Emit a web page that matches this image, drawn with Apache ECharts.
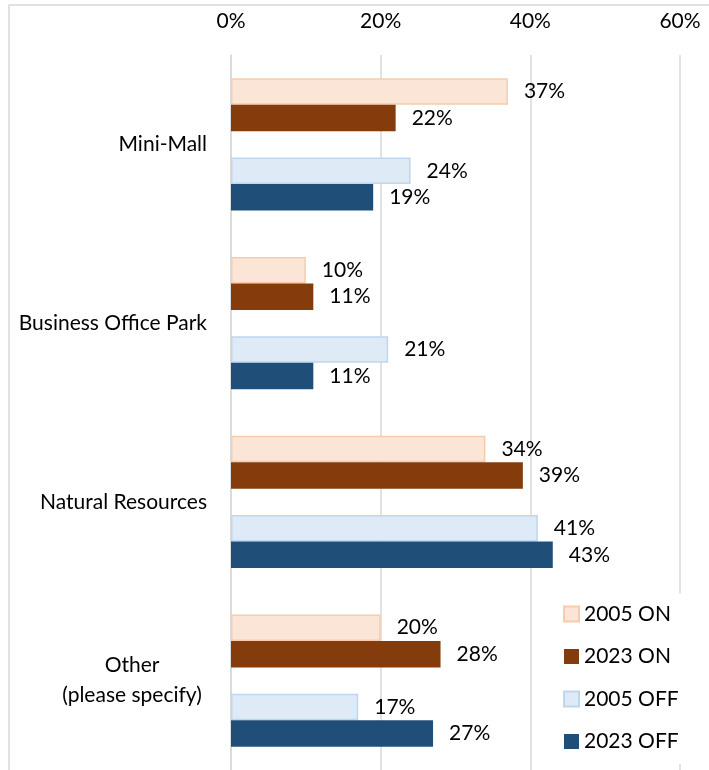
<!DOCTYPE html>
<html>
<head>
    <meta charset="UTF-8">
    <title>Location types</title>
    <script src="https://cdn.jsdelivr.net/npm/echarts@6/dist/echarts.min.js"></script>
    <style>
        html, body { margin: 0; padding: 0; background: #fff; }
        #main { width: 709px; height: 770px; }
    </style>
</head>
<body>
<div id="main"></div>
<script>
// categories top to bottom
var categories = ['Mini-Mall', 'Business Office Park', 'Natural Resources', 'Other\n(please specify)'];
var xTicks = [0, 20, 40, 60];

// percentages per category
var on2005  = [37, 10, 34, 20];
var on2023  = [22, 11, 39, 28];
var off2005 = [24, 21, 41, 17];
var off2023 = [19, 11, 43, 27];

var seriesNames = ['2005 ON', '2023 ON', '2005 OFF', '2023 OFF'];

var FONT = 'Lato';
var FS = 21;
var myChart = echarts.init(document.getElementById('main'));

function barSeries(name, data, fill, border) {
    return {
        name: name,
        type: 'bar',
        data: data,
        barGap: '0%',
        barCategoryGap: '26%',
        itemStyle: { color: fill, borderColor: border, borderWidth: border ? 1.5 : 0 },
        label: {
            show: true, position: 'right', distance: 16,
            formatter: '{c}%', color: '#000', fontFamily: FONT, fontSize: FS
        }
    };
}

var option = {
    animation: false,
    graphic: [{
        // outer chart border (cut off at right and bottom)
        type: 'rect', shape: { x: 9, y: 5, width: 800, height: 800 },
        style: { fill: null, stroke: '#d9d9d9', lineWidth: 1.5 }, silent: true
    }],
    grid: { left: 231, right: 29, top: 55, bottom: 0 },
    legend: {
        data: seriesNames,
        orient: 'vertical',
        left: 553, bottom: 6,
        padding: [10, 10, 12, 10],
        backgroundColor: '#fff',
        icon: 'rect',
        itemWidth: 15, itemHeight: 15, itemGap: 21.5,
        textStyle: { color: '#000', fontFamily: FONT, fontSize: FS }
    },
    xAxis: {
        type: 'value', position: 'top',
        min: 0, max: 60, interval: 20,
        axisLine: { show: false }, axisTick: { show: false },
        splitLine: { lineStyle: { color: '#d9d9d9', width: 1.5 } },
        axisLabel: {
            margin: 23, color: '#000', fontFamily: FONT, fontSize: FS,
            formatter: function (v) { return xTicks.indexOf(v) >= 0 ? v + '%' : ''; }
        }
    },
    yAxis: {
        type: 'category', data: categories, inverse: true,
        axisLine: { show: true, lineStyle: { color: '#d9d9d9', width: 1.5 } },
        axisTick: { show: false },
        axisLabel: {
            margin: 24, color: '#000', fontFamily: FONT, fontSize: FS, lineHeight: 30,
            formatter: function (v) {
                if (v.indexOf('\n') >= 0) {
                    var p = v.split('\n');
                    return '{c|' + p[0] + '}\n{c|' + p[1] + '}';
                }
                return v;
            },
            rich: { c: { width: 150, align: 'center', fontFamily: FONT, fontSize: FS, lineHeight: 30, color: '#000' } }
        }
    },
    series: [
        barSeries(seriesNames[0], on2005, '#fbe5d6', '#f8cbad'),
        barSeries(seriesNames[1], on2023, '#843c0c'),
        // empty slot between ON and OFF pairs
        { name: 'gap', type: 'bar', data: [null, null, null, null], barGap: '0%', barCategoryGap: '26%' },
        barSeries(seriesNames[2], off2005, '#deebf7', '#bdd7ee'),
        barSeries(seriesNames[3], off2023, '#1f4e79')
    ]
};

myChart.setOption(option, true);
</script>
</body>
</html>
